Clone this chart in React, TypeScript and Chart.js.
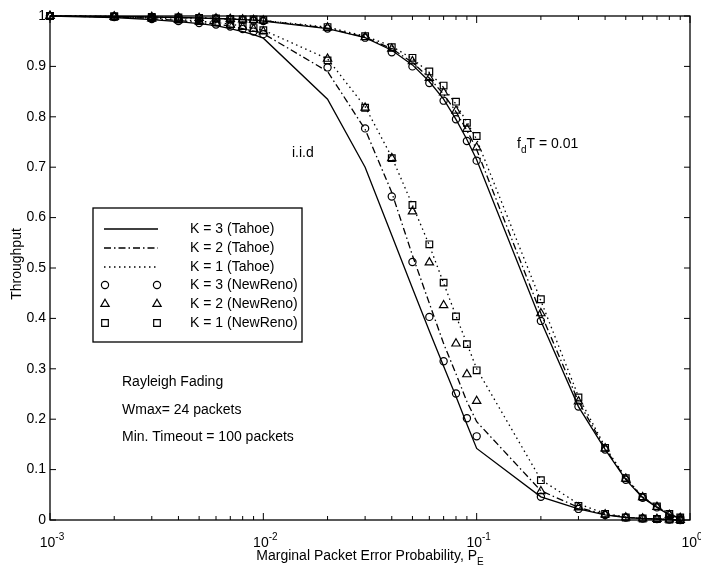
import React, { useEffect, useRef } from "react";
import { Chart, registerables } from "chart.js";

Chart.register(...registerables);

const FONT_FAMILY = '"Liberation Sans", Arial, Helvetica, sans-serif';

// Marginal packet error probability (x values)
const errorProbability = [
  0.001, 0.002, 0.003, 0.004, 0.005, 0.006, 0.007, 0.008, 0.009, 0.01,
  0.02, 0.03, 0.04, 0.05, 0.06, 0.07, 0.08, 0.09, 0.1,
  0.2, 0.3, 0.4, 0.5, 0.6, 0.7, 0.8, 0.9,
];

// i.i.d. channel
const iidTahoeK3 = [1.0, 0.997, 0.993, 0.989, 0.985, 0.981, 0.975, 0.969, 0.963, 0.956, 0.835, 0.7, 0.565, 0.46, 0.375, 0.305, 0.245, 0.19, 0.142, 0.046, 0.022, 0.01, 0.005, 0.003, 0.002, 0.001, 0.0];
const iidTahoeK2 = [1.0, 0.998, 0.995, 0.991, 0.987, 0.984, 0.98, 0.975, 0.97, 0.965, 0.89, 0.775, 0.65, 0.525, 0.43, 0.35, 0.29, 0.235, 0.195, 0.058, 0.025, 0.011, 0.005, 0.003, 0.002, 0.001, 0.0];
const iidTahoeK1 = [1.0, 0.999, 0.996, 0.993, 0.99, 0.987, 0.984, 0.98, 0.976, 0.972, 0.915, 0.82, 0.72, 0.625, 0.545, 0.47, 0.405, 0.35, 0.3, 0.08, 0.032, 0.013, 0.006, 0.003, 0.002, 0.001, 0.0];
const iidNewRenoK3 = [1.0, 0.998, 0.994, 0.99, 0.986, 0.983, 0.979, 0.974, 0.969, 0.964, 0.898, 0.777, 0.642, 0.512, 0.403, 0.315, 0.251, 0.202, 0.166, 0.046, 0.022, 0.01, 0.005, 0.003, 0.002, 0.001, 0.0];
const iidNewRenoK2 = [1.0, 0.998, 0.995, 0.992, 0.989, 0.986, 0.982, 0.978, 0.974, 0.969, 0.915, 0.818, 0.718, 0.612, 0.511, 0.426, 0.35, 0.289, 0.236, 0.057, 0.025, 0.011, 0.005, 0.003, 0.002, 0.001, 0.0];
const iidNewRenoK1 = [1.0, 0.999, 0.996, 0.993, 0.99, 0.987, 0.984, 0.98, 0.976, 0.972, 0.912, 0.818, 0.718, 0.625, 0.547, 0.471, 0.404, 0.349, 0.297, 0.079, 0.028, 0.012, 0.005, 0.003, 0.002, 0.001, 0.0];

// Rayleigh fading, fdT = 0.01
const fadTahoeK3 = [1.0, 0.999, 0.998, 0.997, 0.996, 0.995, 0.994, 0.993, 0.992, 0.99, 0.975, 0.957, 0.932, 0.903, 0.87, 0.835, 0.795, 0.755, 0.715, 0.395, 0.225, 0.14, 0.08, 0.044, 0.025, 0.01, 0.003];
const fadTahoeK2 = [1.0, 0.999, 0.998, 0.997, 0.996, 0.995, 0.994, 0.993, 0.992, 0.991, 0.976, 0.958, 0.935, 0.908, 0.877, 0.845, 0.81, 0.773, 0.735, 0.41, 0.235, 0.142, 0.082, 0.045, 0.026, 0.011, 0.004];
const fadTahoeK1 = [1.0, 0.999, 0.998, 0.997, 0.996, 0.995, 0.994, 0.993, 0.992, 0.991, 0.978, 0.96, 0.94, 0.915, 0.888, 0.858, 0.825, 0.79, 0.755, 0.435, 0.245, 0.145, 0.084, 0.046, 0.027, 0.012, 0.005];
const fadNewRenoK3 = [1.0, 0.999, 0.998, 0.997, 0.996, 0.995, 0.994, 0.992, 0.991, 0.99, 0.975, 0.957, 0.928, 0.9, 0.867, 0.832, 0.795, 0.752, 0.713, 0.395, 0.225, 0.14, 0.08, 0.044, 0.025, 0.01, 0.004];
const fadNewRenoK2 = [1.0, 0.999, 0.998, 0.997, 0.996, 0.995, 0.994, 0.993, 0.992, 0.991, 0.977, 0.958, 0.935, 0.91, 0.877, 0.848, 0.812, 0.776, 0.739, 0.41, 0.235, 0.142, 0.082, 0.045, 0.026, 0.01, 0.004];
const fadNewRenoK1 = [1.0, 0.999, 0.998, 0.997, 0.996, 0.995, 0.994, 0.993, 0.993, 0.992, 0.978, 0.96, 0.938, 0.917, 0.89, 0.862, 0.83, 0.788, 0.762, 0.438, 0.243, 0.143, 0.083, 0.046, 0.027, 0.012, 0.005];

const legendLabels = [
  "K = 3 (Tahoe)",
  "K = 2 (Tahoe)",
  "K = 1 (Tahoe)",
  "K = 3 (NewReno)",
  "K = 2 (NewReno)",
  "K = 1 (NewReno)",
];

const yTickValues = [0, 0.1, 0.2, 0.3, 0.4, 0.5, 0.6, 0.7, 0.8, 0.9, 1];
const yTickLabels = ["0", "0.1", "0.2", "0.3", "0.4", "0.5", "0.6", "0.7", "0.8", "0.9", "1"];
const xDecades = [0.001, 0.01, 0.1, 1];
const xDecadeExponents = ["-3", "-2", "-1", "0"];

const yAxisTitle = "Throughput";
const xAxisTitle = "Marginal Packet Error Probability, P";
const xAxisTitleSub = "E";
const iidNote = "i.i.d";
const fadingNote = ["f", "d", "T = 0.01"];
const infoNotes = ["Rayleigh Fading", "Wmax= 24 packets", "Min. Timeout = 100 packets"];

const pts = (ys: number[]) => errorProbability.map((x, i) => ({ x, y: ys[i] }));

const DASHDOT = [7, 3, 1.5, 3];
const DOTTED = [1.5, 3.5];
const LINE_W = 1.3;
const MARK_W = 1.2;
const R_CIRCLE = 3.6;
const R_TRI = 4.8;
const R_RECT = 4.7;

type Style = { kind: "line"; dash: number[] } | { kind: "mark"; pointStyle: string; r: number };
const styles: Style[] = [
  { kind: "line", dash: [] },
  { kind: "line", dash: DASHDOT },
  { kind: "line", dash: DOTTED },
  { kind: "mark", pointStyle: "circle", r: R_CIRCLE },
  { kind: "mark", pointStyle: "triangle", r: R_TRI },
  { kind: "mark", pointStyle: "rect", r: R_RECT },
];

function makeDataset(label: string, ys: number[], s: Style) {
  if (s.kind === "line") {
    return {
      label,
      data: pts(ys),
      borderColor: "#000",
      borderWidth: LINE_W,
      borderDash: s.dash,
      pointRadius: 0,
      fill: false,
      tension: 0,
      clip: false,
    };
  }
  return {
    label,
    data: pts(ys),
    showLine: false,
    pointStyle: s.pointStyle,
    pointRadius: s.r,
    pointBorderColor: "#000",
    pointBackgroundColor: "rgba(0,0,0,0)",
    pointBorderWidth: MARK_W,
    borderColor: "#000",
    clip: false,
  };
}

const iidSeries = [iidTahoeK3, iidTahoeK2, iidTahoeK1, iidNewRenoK3, iidNewRenoK2, iidNewRenoK1];
const fadSeries = [fadTahoeK3, fadTahoeK2, fadTahoeK1, fadNewRenoK3, fadNewRenoK2, fadNewRenoK1];

type Part = { text: string; shift?: "sub" | "sup" };

function partFont(p: Part) {
  return p.shift ? `10px ${FONT_FAMILY}` : `14px ${FONT_FAMILY}`;
}

function drawRich(ctx: CanvasRenderingContext2D, parts: Part[], x: number, baseline: number, align: "left" | "center") {
  ctx.textAlign = "left";
  ctx.textBaseline = "alphabetic";
  const widths = parts.map((p) => {
    ctx.font = partFont(p);
    return ctx.measureText(p.text).width;
  });
  const total = widths.reduce((a, b) => a + b, 0);
  let cx = align === "center" ? x - total / 2 : x;
  parts.forEach((p, i) => {
    ctx.font = partFont(p);
    const off = p.shift === "sub" ? 5 : p.shift === "sup" ? -7 : 0;
    ctx.fillText(p.text, cx, baseline + off);
    cx += widths[i];
  });
}

function drawMarker(ctx: CanvasRenderingContext2D, style: string, x: number, y: number, r: number) {
  ctx.beginPath();
  if (style === "circle") {
    ctx.arc(x, y, r, 0, Math.PI * 2);
  } else if (style === "triangle") {
    ctx.moveTo(x, y - r);
    ctx.lineTo(x + r * Math.sin((2 * Math.PI) / 3), y + r / 2);
    ctx.lineTo(x - r * Math.sin((2 * Math.PI) / 3), y + r / 2);
    ctx.closePath();
  } else {
    const s = r * Math.SQRT1_2;
    ctx.rect(x - s, y - s, 2 * s, 2 * s);
  }
  ctx.stroke();
}

const framePlugin = {
  id: "matlabFrame",
  afterDraw(chart: any) {
    const { ctx, chartArea: a, scales } = chart;
    const xs = scales.x;
    const ys = scales.y;
    ctx.save();
    ctx.strokeStyle = "#000";
    ctx.fillStyle = "#000";
    ctx.setLineDash([]);

    // frame
    ctx.lineWidth = 1.3;
    ctx.strokeRect(a.left, a.top, a.right - a.left, a.bottom - a.top);

    const seg = (x1: number, y1: number, x2: number, y2: number) => {
      ctx.beginPath();
      ctx.moveTo(x1, y1);
      ctx.lineTo(x2, y2);
      ctx.stroke();
    };

    // y ticks
    ctx.lineWidth = 1;
    yTickValues.forEach((v, i) => {
      const y = ys.getPixelForValue(v);
      seg(a.left, y, a.left + 6, y);
      seg(a.right, y, a.right - 6, y);
      ctx.font = `14px ${FONT_FAMILY}`;
      ctx.textAlign = "right";
      ctx.textBaseline = "middle";
      ctx.fillText(yTickLabels[i], a.left - 4, y);
    });

    // x ticks (major + minor)
    for (let d = 0; d < xDecades.length; d++) {
      const dec = xDecades[d];
      const x = xs.getPixelForValue(dec);
      seg(x, a.bottom, x, a.bottom - 7);
      seg(x, a.top, x, a.top + 7);
      drawRich(ctx, [{ text: "10" }, { text: xDecadeExponents[d], shift: "sup" }], x + 2, 547, "center");
      if (d < xDecades.length - 1) {
        for (let m = 2; m <= 9; m++) {
          const xm = xs.getPixelForValue(dec * m);
          seg(xm, a.bottom, xm, a.bottom - 4);
          seg(xm, a.top, xm, a.top + 4);
        }
      }
    }

    // axis titles
    const cxMid = (a.left + a.right) / 2;
    const cyMid = (a.top + a.bottom) / 2;
    drawRich(ctx, [{ text: xAxisTitle }, { text: xAxisTitleSub, shift: "sub" }], cxMid, 560, "center");
    ctx.save();
    ctx.translate(17, cyMid - 4);
    ctx.rotate(-Math.PI / 2);
    ctx.font = `14px ${FONT_FAMILY}`;
    ctx.textAlign = "center";
    ctx.textBaseline = "middle";
    ctx.fillText(yAxisTitle, 0, 0);
    ctx.restore();

    // annotations
    ctx.font = `14px ${FONT_FAMILY}`;
    ctx.textAlign = "left";
    ctx.textBaseline = "middle";
    ctx.fillText(iidNote, 292, 153);
    drawRich(ctx, [{ text: fadingNote[0] }, { text: fadingNote[1], shift: "sub" }, { text: fadingNote[2] }], 517, 148, "left");
    ctx.font = `14px ${FONT_FAMILY}`;
    ctx.textAlign = "left";
    ctx.textBaseline = "middle";
    const infoY = [382, 410, 437];
    infoNotes.forEach((t, i) => ctx.fillText(t, 122, infoY[i]));

    // legend
    const box = { left: 93, top: 208, right: 302, bottom: 342 };
    ctx.fillStyle = "#fff";
    ctx.fillRect(box.left, box.top, box.right - box.left, box.bottom - box.top);
    ctx.fillStyle = "#000";
    ctx.lineWidth = 1.3;
    ctx.strokeRect(box.left, box.top, box.right - box.left, box.bottom - box.top);
    const rowY = [229, 248, 267, 285, 304, 323];
    legendLabels.forEach((lab, i) => {
      const y = rowY[i];
      const s = styles[i];
      if (s.kind === "line") {
        ctx.lineWidth = LINE_W;
        ctx.setLineDash(s.dash);
        seg(104, y, 158, y);
        ctx.setLineDash([]);
      } else {
        ctx.lineWidth = MARK_W;
        drawMarker(ctx, s.pointStyle, 105, y, s.r);
        drawMarker(ctx, s.pointStyle, 157, y, s.r);
      }
      ctx.font = `14px ${FONT_FAMILY}`;
      ctx.textAlign = "left";
      ctx.textBaseline = "middle";
      ctx.fillText(lab, 190, y);
    });

    ctx.restore();
  },
};

export default function App() {
  const canvasRef = useRef<HTMLCanvasElement>(null);

  useEffect(() => {
    const canvas = canvasRef.current;
    if (!canvas) return;
    const datasets: any[] = [];
    legendLabels.forEach((lab, i) => datasets.push(makeDataset(lab + " i.i.d", iidSeries[i], styles[i])));
    legendLabels.forEach((lab, i) => datasets.push(makeDataset(lab + " fading", fadSeries[i], styles[i])));

    const chart = new Chart(canvas, {
      type: "line",
      data: { datasets },
      options: {
        animation: false,
        responsive: false,
        events: [],
        layout: { padding: { left: 50, right: 11, top: 16, bottom: 47 } },
        plugins: { legend: { display: false }, tooltip: { enabled: false } },
        scales: {
          x: { type: "logarithmic", min: 0.001, max: 1, display: false },
          y: { type: "linear", min: 0, max: 1, display: false },
        },
      },
      plugins: [framePlugin],
    } as any);
    return () => chart.destroy();
  }, []);

  return (
    <div style={{ position: "absolute", left: 0, top: 0, width: 701, height: 567, background: "#fff" }}>
      <canvas ref={canvasRef} width={701} height={567} style={{ display: "block" }} />
    </div>
  );
}
